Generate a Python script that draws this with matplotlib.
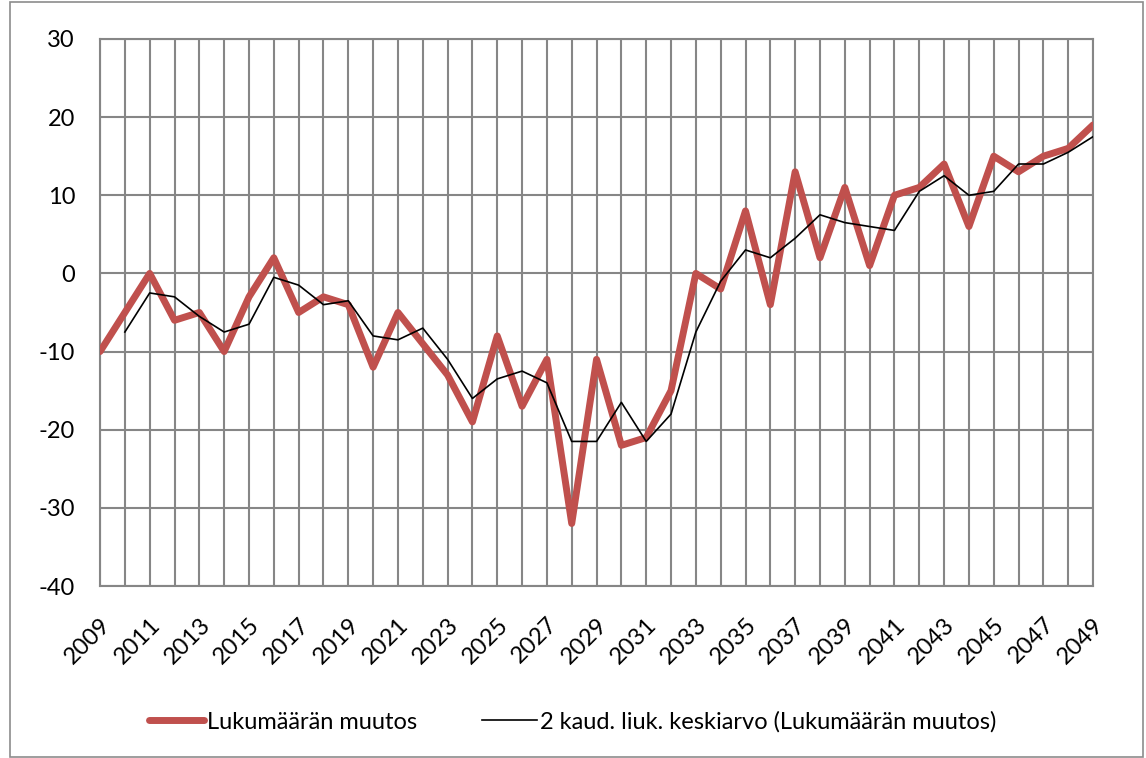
import matplotlib
matplotlib.use('Agg')
import matplotlib.pyplot as plt
from matplotlib.patches import Rectangle

# data
years = list(range(2009, 2050))
muutos = [-10, -5, 0, -6, -5, -10, -3, 2, -5, -3,
          -4, -12, -5, -9, -13, -19, -8, -17, -11, -32,
          -11, -22, -21, -15, 0, -2, 8, -4, 13, 2,
          11, 1, 10, 11, 14, 6, 15, 13, 15, 16, 19]
# 2 kaud. liukuva keskiarvo (first year has no value)
ka_years = list(range(2010, 2050))
keskiarvo = [-7.5, -2.5, -3, -5.5, -7.5, -6.5, -0.5, -1.5, -4,
             -3.5, -8, -8.5, -7, -11, -16, -13.5, -12.5, -14, -21.5,
             -21.5, -16.5, -21.5, -18, -7.5, -1, 3, 2, 4.5, 7.5,
             6.5, 6, 5.5, 10.5, 12.5, 10, 10.5, 14, 14, 15.5, 17.5]
tick_years = list(range(2009, 2050, 2))
y_ticks = [-40, -30, -20, -10, 0, 10, 20, 30]

plt.rcParams['font.family'] = ['Lato', 'DejaVu Sans']

fig = plt.figure(figsize=(11.46, 7.58), dpi=100)
ax = fig.add_axes([0.0873, 0.2269, 0.8665, 0.7217])

# outer chart border
fig.patches.append(Rectangle((10 / 1146, 1 / 758), 1133 / 1146, 755 / 758,
                             transform=fig.transFigure, fill=False,
                             edgecolor='#8c8c8c', linewidth=1.2))

grid_c = '#868686'
for yr in years:
    ax.axvline(yr, color=grid_c, linewidth=1.5, zorder=1)
for v in y_ticks:
    ax.axhline(v, color=grid_c, linewidth=1.5, zorder=1)

ax.plot(years, muutos, color='#C0504D', linewidth=5, solid_joinstyle='round',
        solid_capstyle='round', label='Lukumäärän muutos', zorder=3)
ax.plot(ka_years, keskiarvo, color='black', linewidth=1.2,
        label='2 kaud. liuk. keskiarvo (Lukumäärän muutos)', zorder=4)

ax.set_xlim(2009, 2049)
ax.set_ylim(-40, 30)
ax.set_xticks(tick_years)
ax.set_xticklabels([str(t) for t in tick_years], rotation=45, ha='right',
                   rotation_mode='anchor', fontsize=17)
ax.set_yticks(y_ticks)
ax.set_yticklabels([str(t) for t in y_ticks], fontsize=17)
ax.tick_params(axis='both', length=0)
ax.tick_params(axis='y', pad=18)
ax.tick_params(axis='x', pad=20)
for s in ax.spines.values():
    s.set_color(grid_c)
    s.set_linewidth(1.5)

fig.legend(loc='center', bbox_to_anchor=(0.5, 0.0475), ncol=2, frameon=False,
           fontsize=17, handlelength=2.3, handletextpad=0.15, columnspacing=2.75)

plt.savefig('out.png', dpi=100)
